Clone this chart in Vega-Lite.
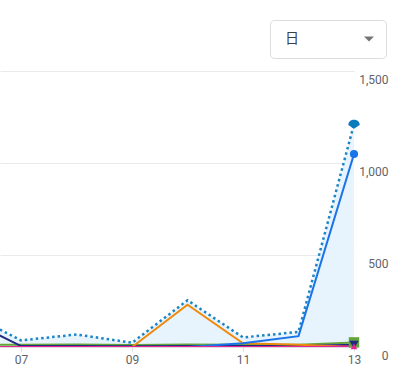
{
  "$schema": "https://vega.github.io/schema/vega-lite/v6.json",
  "autosize": {"type": "none"},
  "padding": {"left": 0, "top": 71, "right": 52, "bottom": 36},
  "width": 354,
  "height": 276,
  "background": "white",
  "config": {
    "view": {"stroke": null},
    "font": "Roboto"
  },
  "datasets": {
    "d": [
      {"day": 6, "series": "total", "value": 190},
      {"day": 7, "series": "total", "value": 36},
      {"day": 8, "series": "total", "value": 68},
      {"day": 9, "series": "total", "value": 23},
      {"day": 10, "series": "total", "value": 254},
      {"day": 11, "series": "total", "value": 52},
      {"day": 12, "series": "total", "value": 82},
      {"day": 13, "series": "total", "value": 1211},
      {"day": 6, "series": "green", "value": 12},
      {"day": 7, "series": "green", "value": 12},
      {"day": 8, "series": "green", "value": 13},
      {"day": 9, "series": "green", "value": 11},
      {"day": 10, "series": "green", "value": 13},
      {"day": 11, "series": "green", "value": 12},
      {"day": 12, "series": "green", "value": 12},
      {"day": 13, "series": "green", "value": 25},
      {"day": 6, "series": "navy", "value": 155},
      {"day": 7, "series": "navy", "value": 5},
      {"day": 8, "series": "navy", "value": 5},
      {"day": 9, "series": "navy", "value": 4},
      {"day": 10, "series": "navy", "value": 5},
      {"day": 11, "series": "navy", "value": 5},
      {"day": 12, "series": "navy", "value": 5},
      {"day": 13, "series": "navy", "value": 12},
      {"day": 6, "series": "orange", "value": 0},
      {"day": 7, "series": "orange", "value": 0},
      {"day": 8, "series": "orange", "value": 0},
      {"day": 9, "series": "orange", "value": 0},
      {"day": 10, "series": "orange", "value": 230},
      {"day": 11, "series": "orange", "value": 20},
      {"day": 12, "series": "orange", "value": 12},
      {"day": 13, "series": "orange", "value": 0},
      {"day": 6, "series": "blue", "value": 0},
      {"day": 7, "series": "blue", "value": 0},
      {"day": 8, "series": "blue", "value": 0},
      {"day": 9, "series": "blue", "value": 0},
      {"day": 10, "series": "blue", "value": 0},
      {"day": 11, "series": "blue", "value": 20},
      {"day": 12, "series": "blue", "value": 59},
      {"day": 13, "series": "blue", "value": 1049},
      {"day": 6, "series": "pink", "value": 0},
      {"day": 7, "series": "pink", "value": 0},
      {"day": 8, "series": "pink", "value": 0},
      {"day": 9, "series": "pink", "value": 0},
      {"day": 10, "series": "pink", "value": 0},
      {"day": 11, "series": "pink", "value": 0},
      {"day": 12, "series": "pink", "value": 0},
      {"day": 13, "series": "pink", "value": 3}
    ],
    "sel": [{"sel": "日", "day": 20, "value": 0}]
  },
  "data": {"name": "d"},
  "encoding": {
    "x": {
      "field": "day",
      "type": "quantitative",
      "scale": {"domain": [6.62, 13], "nice": false, "zero": false},
      "axis": {
        "title": null,
        "values": [7, 9, 11, 13],
        "labelExpr": "(datum.value < 10 ? '0' : '') + datum.value",
        "labelFlush": false,
        "grid": false,
        "domain": true,
        "domainColor": "#dadce0",
        "ticks": true,
        "tickSize": 4,
        "tickColor": "#dadce0",
        "labelColor": "#5f6368",
        "labelFontSize": 12,
        "labelFont": "Roboto",
        "labelPadding": 3
      }
    },
    "y": {
      "field": "value",
      "type": "quantitative",
      "scale": {"domain": [0, 1500], "nice": false},
      "axis": {
        "title": null,
        "orient": "right",
        "values": [0, 500, 1000, 1500],
        "format": ",.0f",
        "grid": true,
        "gridColor": "#e8eaed",
        "domain": false,
        "ticks": false,
        "labelAlign": "right",
        "labelBaseline": "top",
        "labelPadding": 34,
        "labelOffset": 3,
        "labelFlush": false,
        "labelColor": "#5f6368",
        "labelFontSize": 12,
        "labelFont": "Roboto"
      }
    }
  },
  "layer": [
    {
      "transform": [{"filter": "datum.series == 'total'"}],
      "mark": {"type": "area", "color": "#e8f4fd", "opacity": 1, "clip": true}
    },
    {
      "transform": [{"filter": "datum.series == 'green'"}],
      "mark": {"type": "line", "color": "#64a33a", "strokeWidth": 2, "clip": true}
    },
    {
      "transform": [{"filter": "datum.series == 'navy'"}],
      "mark": {"type": "line", "color": "#1f2a80", "strokeWidth": 2, "clip": true}
    },
    {
      "transform": [{"filter": "datum.series == 'orange'"}],
      "mark": {"type": "line", "color": "#ef8a0c", "strokeWidth": 2, "clip": true}
    },
    {
      "transform": [{"filter": "datum.series == 'blue'"}],
      "mark": {"type": "line", "color": "#1a73e8", "strokeWidth": 2, "clip": true}
    },
    {
      "transform": [{"filter": "datum.series == 'pink'"}],
      "mark": {"type": "line", "color": "#e52592", "strokeWidth": 2, "clip": true}
    },
    {
      "transform": [{"filter": "datum.series == 'total'"}],
      "mark": {"type": "line", "color": "#1a84c6", "strokeWidth": 2.5, "strokeDash": [2.5, 3], "clip": true}
    },
    {
      "transform": [{"filter": "datum.day == 13 && datum.series != 'orange'"}],
      "mark": {"type": "point", "filled": true, "opacity": 1, "strokeWidth": 0},
      "encoding": {
        "shape": {
          "field": "series",
          "type": "nominal",
          "scale": {
            "domain": ["total", "green", "navy", "blue", "pink"],
            "range": ["M-1,0.15C-1,-1.1,1,-1.1,1,0.15L0,0.8Z", "square", "triangle-down", "circle", "triangle-up"]
          },
          "legend": null
        },
        "color": {
          "field": "series",
          "type": "nominal",
          "scale": {
            "domain": ["total", "green", "navy", "blue", "pink"],
            "range": ["#0b7bbd", "#64a33a", "#1f2a80", "#1a73e8", "#e52592"]
          },
          "legend": null
        },
        "size": {
          "field": "series",
          "type": "nominal",
          "scale": {
            "domain": ["total", "green", "navy", "blue", "pink"],
            "range": [130, 45, 45, 75, 70]
          },
          "legend": null
        }
      }
    },
    {
      "data": {"name": "sel"},
      "mark": {"type": "point", "filled": true, "color": "#757575", "opacity": 1, "clip": true},
      "encoding": {
        "shape": {
          "field": "sel",
          "type": "nominal",
          "scale": {"range": ["M-1,-0.5L1,-0.5L0,0.5Z"]},
          "legend": {
            "title": null,
            "orient": "none",
            "legendX": 270,
            "legendY": -51,
            "padding": 12,
            "strokeColor": "#dadce0",
            "cornerRadius": 4,
            "fillColor": "white",
            "labelFont": "Noto Sans CJK JP",
            "labelFontSize": 14,
            "labelColor": "#3c4043",
            "symbolSize": 100,
            "symbolOffset": 80,
            "labelOffset": -91,
            "symbolStrokeWidth": 0,
            "symbolFillColor": "#757575"
          }
        }
      }
    }
  ],
  "resolve": {"scale": {"shape": "independent", "color": "independent", "size": "independent"}, "legend": {"shape": "independent"}}
}
